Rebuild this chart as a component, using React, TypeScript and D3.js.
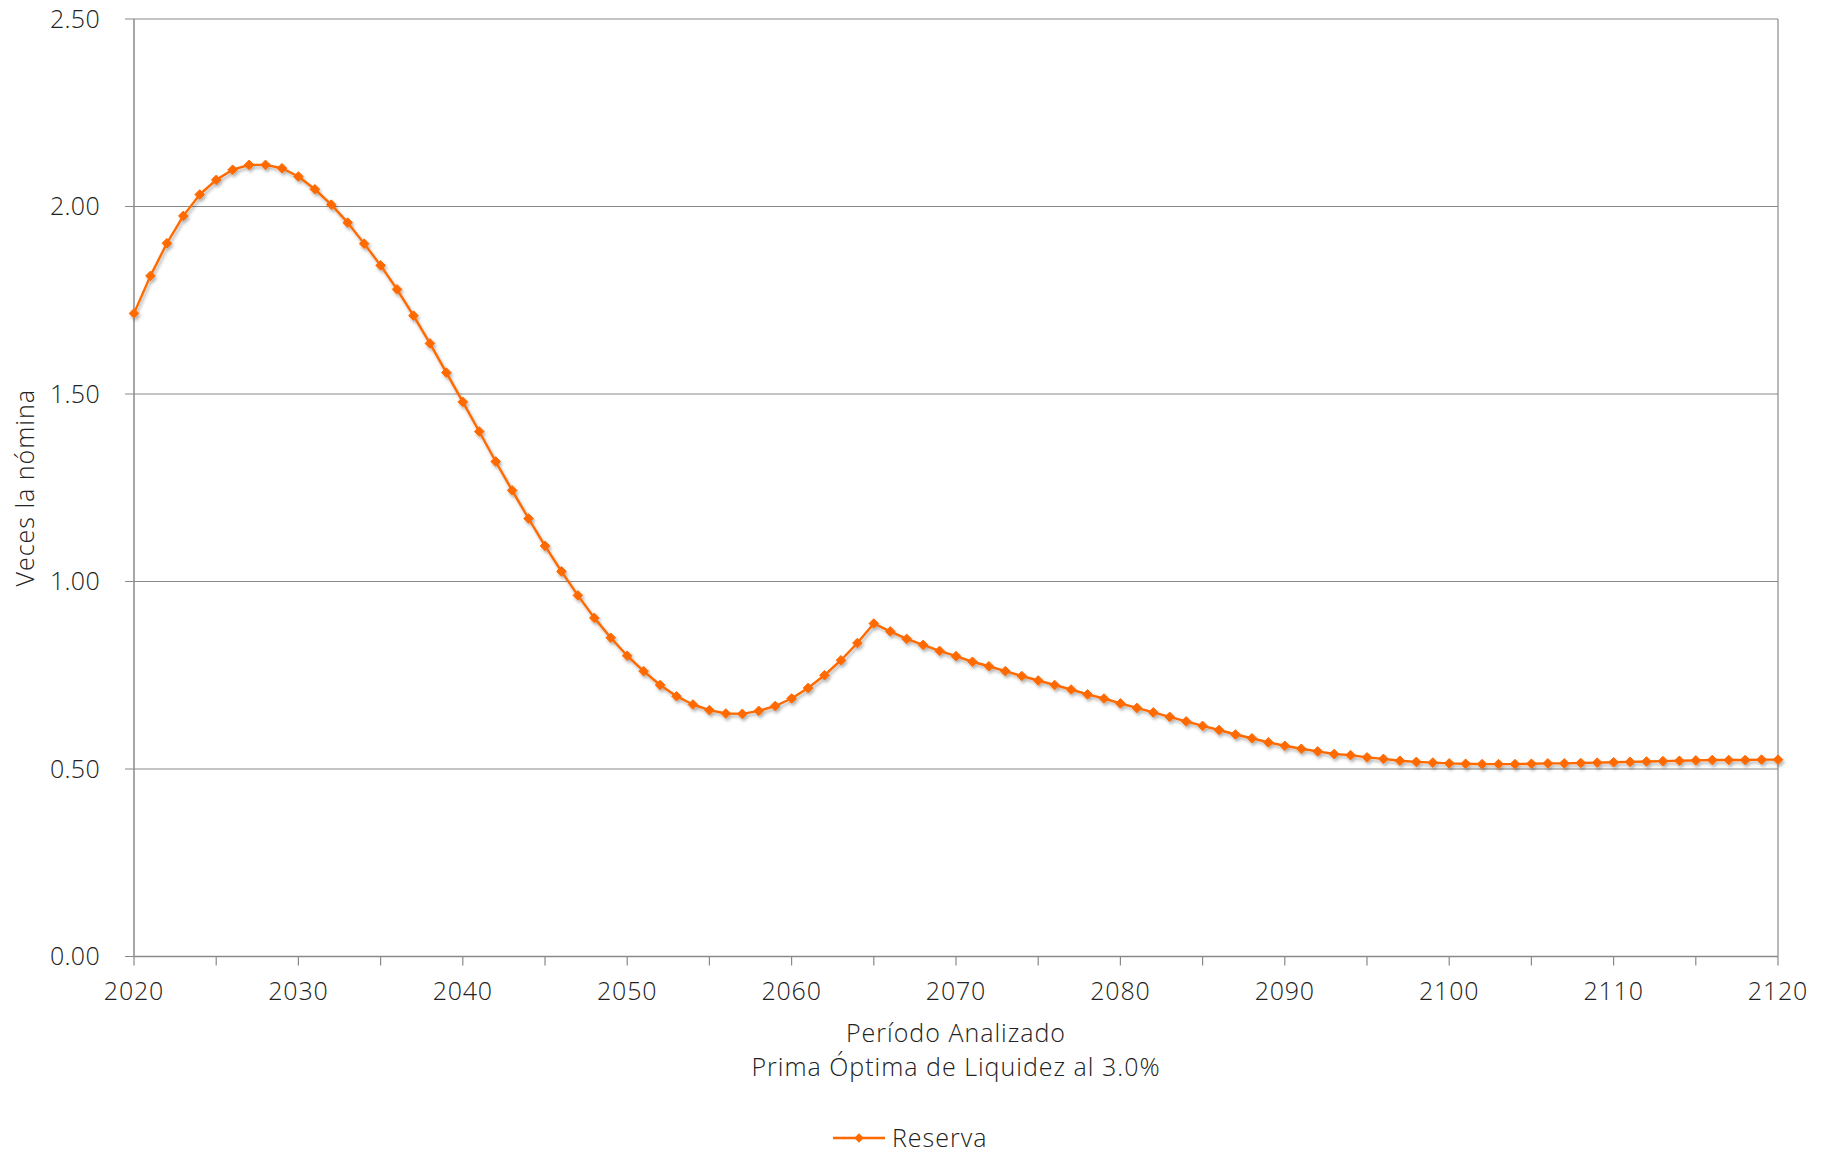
import React from "react";
import * as d3 from "d3";

const startYear = 2020;
const reserva: number[] = [
  1.715, 1.815, 1.902, 1.975, 2.032, 2.071, 2.098, 2.111, 2.111, 2.102,
  2.080, 2.046, 2.005, 1.957, 1.901, 1.843, 1.779, 1.709, 1.635, 1.557,
  1.479, 1.400, 1.320, 1.243, 1.168, 1.095, 1.027, 0.963, 0.903, 0.850,
  0.802, 0.761, 0.724, 0.694, 0.672, 0.657, 0.648, 0.647, 0.655, 0.668,
  0.688, 0.716, 0.750, 0.790, 0.836, 0.888, 0.867, 0.847, 0.831, 0.815,
  0.801, 0.786, 0.774, 0.761, 0.748, 0.736, 0.724, 0.712, 0.699, 0.688,
  0.675, 0.663, 0.651, 0.639, 0.627, 0.615, 0.604, 0.592, 0.582, 0.571,
  0.562, 0.554, 0.547, 0.540, 0.537, 0.531, 0.527, 0.522, 0.519, 0.517,
  0.515, 0.514, 0.513, 0.513, 0.513, 0.514, 0.515, 0.515, 0.516, 0.517,
  0.518, 0.519, 0.520, 0.521, 0.522, 0.523, 0.524, 0.524, 0.524, 0.525,
  0.525,
];
const years: number[] = reserva.map((_, i) => startYear + i);
const yTicks: number[] = [0, 0.5, 1.0, 1.5, 2.0, 2.5];
const xLabelTicks: number[] = [2020, 2030, 2040, 2050, 2060, 2070, 2080, 2090, 2100, 2110, 2120];
const xMinorTicks: number[] = d3.range(2020, 2121, 5);

const seriesName = "Reserva";
const yTitle = "Veces la nómina";
const xTitle1 = "Período Analizado";
const xTitle2 = "Prima Óptima de Liquidez al 3.0%";

const W = 1833;
const H = 1152;
const left = 134;
const right = 1778;
const top = 19;
const bottom = 956.5;
const ORANGE = "#FF6A00";
const GRID = "#8a8a8a";
const TEXT = "#222";
const FONT = "'Open Sans', Roboto, sans-serif";
const FS = 25;
const LS = 1.0;

export default function App() {
  const x = d3.scaleLinear().domain([2020, 2120]).range([left, right]);
  const y = d3.scaleLinear().domain([0, 2.5]).range([bottom, top]);
  const line = d3
    .line<number>()
    .x((_, i) => x(years[i]))
    .y((d) => y(d));
  const diamond = (cx: number, cy: number, r: number) =>
    `M${cx},${cy - r}L${cx + r},${cy}L${cx},${cy + r}L${cx - r},${cy}Z`;

  return (
    <svg
      width={W}
      height={H}
      style={{ position: "absolute", left: 0, top: 0, background: "#fff" }}
      fontFamily={FONT}
    >
      <defs>
        <filter id="shadow" x="-5%" y="-5%" width="110%" height="120%">
          <feDropShadow dx="1.5" dy="2.5" stdDeviation="1.5" floodColor="#000" floodOpacity="0.3" />
        </filter>
      </defs>
      <rect x={0} y={0} width={W} height={H} fill="#fff" />
      {yTicks.map((t) => (
        <line key={"g" + t} x1={left - 9} x2={right} y1={y(t)} y2={y(t)} stroke={GRID} strokeWidth={1.2} />
      ))}
      <line x1={left} x2={left} y1={top} y2={bottom} stroke={GRID} strokeWidth={1.5} />
      <line x1={right} x2={right} y1={top} y2={bottom} stroke={GRID} strokeWidth={1.2} />
      <line x1={left} x2={right} y1={bottom} y2={bottom} stroke={GRID} strokeWidth={1.5} />
      {xMinorTicks.map((t) => (
        <line key={"xt" + t} x1={x(t)} x2={x(t)} y1={bottom} y2={bottom + 9} stroke={GRID} strokeWidth={1.2} />
      ))}
      {yTicks.map((t) => (
        <text key={"yl" + t} x={100} y={y(t)} dy="0.35em" textAnchor="end" fontSize={FS} fontWeight={300} letterSpacing={0.3} fill={TEXT}>
          {t.toFixed(2)}
        </text>
      ))}
      {xLabelTicks.map((t) => (
        <text key={"xl" + t} x={x(t)} y={1000} textAnchor="middle" fontSize={FS} fontWeight={300} letterSpacing={0.8} fill={TEXT}>
          {t}
        </text>
      ))}
      <text x={(left + right) / 2} y={1041.5} textAnchor="middle" fontSize={FS} fontWeight={300} letterSpacing={LS} fill={TEXT}>
        {xTitle1}
      </text>
      <text x={(left + right) / 2} y={1075.5} textAnchor="middle" fontSize={FS} fontWeight={300} letterSpacing={LS} fill={TEXT}>
        {xTitle2}
      </text>
      <text
        transform={`translate(34,${(top + bottom) / 2}) rotate(-90)`}
        textAnchor="middle"
        fontSize={FS}
        fontWeight={300}
        letterSpacing={LS}
        fill={TEXT}
      >
        {yTitle}
      </text>
      <g filter="url(#shadow)">
        <path d={line(reserva) || ""} fill="none" stroke={ORANGE} strokeWidth={2.4} strokeLinejoin="round" />
        {reserva.map((v, i) => (
          <path key={"m" + i} d={diamond(x(years[i]), y(v), 4.8)} fill={ORANGE} stroke={ORANGE} strokeWidth={1} />
        ))}
      </g>
      <line x1={833} x2={885} y1={1138} y2={1138} stroke={ORANGE} strokeWidth={2.4} />
      <path d={diamond(859, 1138, 4.8)} fill={ORANGE} />
      <text x={892} y={1146.5} fontSize={FS} fontWeight={300} letterSpacing={LS} fill={TEXT}>
        {seriesName}
      </text>
    </svg>
  );
}
